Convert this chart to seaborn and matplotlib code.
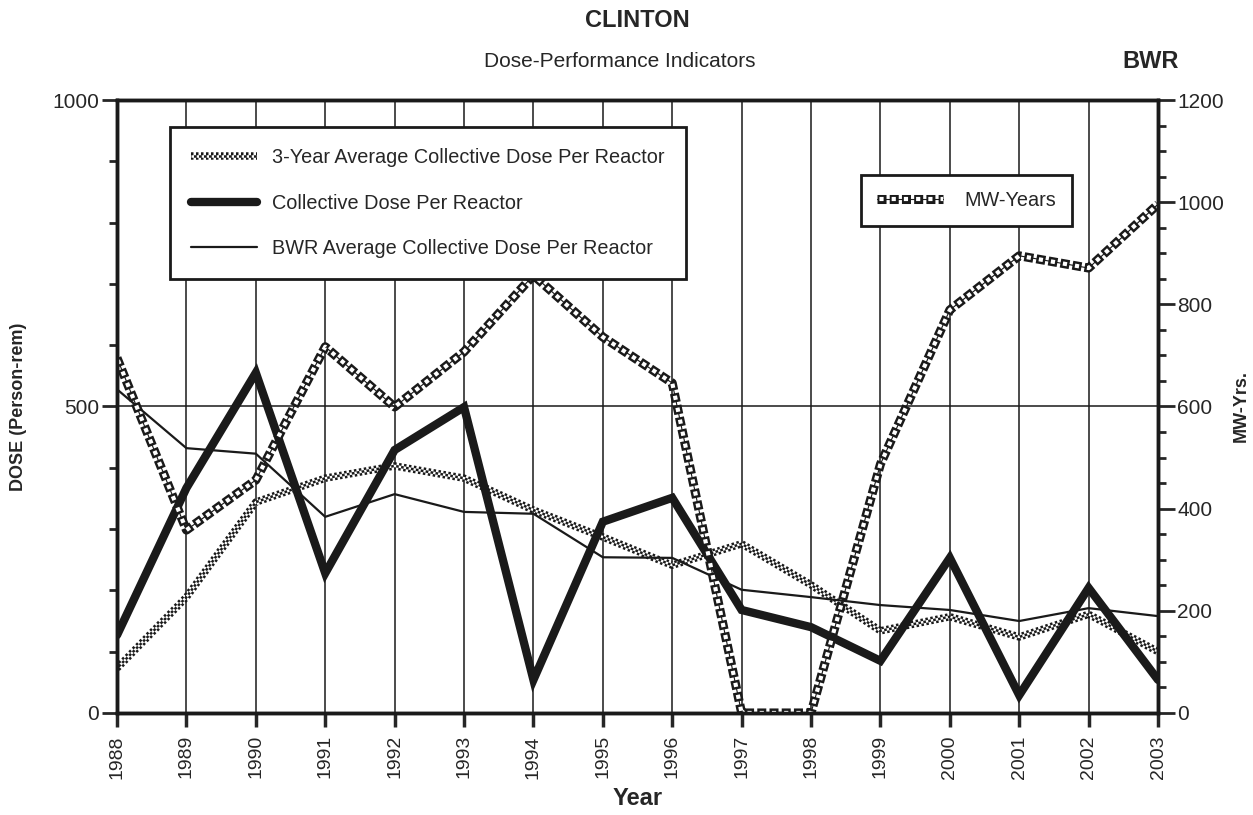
import matplotlib
matplotlib.use("Agg")
import matplotlib.pyplot as plt
from matplotlib.lines import Line2D
from matplotlib.ticker import MultipleLocator
import pandas as pd
import seaborn as sns

# Data
years = list(range(1988, 2004))
collective_dose = [127, 367, 555, 228, 429, 499, 54, 312, 351, 168, 140, 85, 253, 29, 204, 54]
bwr_avg_dose = [528, 432, 423, 320, 357, 328, 325, 254, 253, 201, 189, 176, 168, 150, 171, 158]
three_yr_avg = [73, 189, 344, 383, 403, 383, 331, 287, 241, 276, 209, 134, 157, 124, 161, 100]
mw_years = [695, 358, 456, 717, 599, 707, 857, 736, 646, 0, 0, 487, 789, 895, 871, 996]

df = pd.DataFrame({"year": years, "dose": collective_dose, "bwr": bwr_avg_dose,
                   "avg3": three_yr_avg, "mw": mw_years})

sns.set_style("ticks")
plt.rcParams['font.family'] = ['Liberation Sans', 'DejaVu Sans']
plt.rcParams['lines.scale_dashes'] = False

INK = "#1a1a1a"
# checkered line (3-yr avg) and hollow-square line (MW-years), as layered dash styles
checker_styles = [dict(color=INK, linewidth=5.4, linestyle=(0, (1.8, 1.8))),
                  dict(color="white", linewidth=1.8, linestyle=(0, (1.8, 1.8))),
                  dict(color=INK, linewidth=1.8, linestyle=(1.8, (1.8, 1.8)))]
square_styles = [dict(color=INK, linewidth=0.8),
                 dict(color=INK, linewidth=6.5, linestyle=(0, (6.5, 2.3))),
                 dict(color="white", linewidth=3.0, linestyle=(7.05, (3.0, 5.8)))]

fig = plt.figure(figsize=(12.53, 8.15), dpi=100)
ax = fig.add_axes([0.0934, 0.1252, 0.8308, 0.7521])
ax2 = ax.twinx()

# left axis lines
for st in checker_styles:
    sns.lineplot(data=df, x="year", y="avg3", ax=ax, errorbar=None, **st)
sns.lineplot(data=df, x="year", y="bwr", ax=ax, color=INK, linewidth=1.6, errorbar=None)
sns.lineplot(data=df, x="year", y="dose", ax=ax, color=INK, linewidth=6,
             errorbar=None, solid_joinstyle="miter")

# right axis: MW-years
for st in square_styles:
    sns.lineplot(data=df, x="year", y="mw", ax=ax2, errorbar=None, **st)

ax.set_xlim(1988, 2003)
ax.set_ylim(0, 1000)
ax2.set_ylim(0, 1200)

ax.set_xticks(years)
ax.set_xticklabels([str(y) for y in years], rotation=90, fontsize=14)
ax.xaxis.grid(True, color=INK, linewidth=1.1)
ax.axhline(500, color=INK, linewidth=1.1, zorder=0.5)

ax.set_yticks([0, 500, 1000])
ax.yaxis.set_minor_locator(MultipleLocator(100))
ax.tick_params(axis="y", which="major", length=11, width=2, labelsize=15, pad=2)
ax.tick_params(axis="y", which="minor", length=6, width=2)
ax.tick_params(axis="x", which="major", length=10, width=2.5, pad=6)

ax2.set_yticks(range(0, 1201, 200))
ax2.yaxis.set_minor_locator(MultipleLocator(50))
ax2.tick_params(axis="y", which="major", length=12, width=2, labelsize=15, pad=2)
ax2.tick_params(axis="y", which="minor", length=6, width=2)

for a in (ax, ax2):
    for side in ("left", "right", "bottom", "top"):
        a.spines[side].set_visible(True)
        a.spines[side].set_linewidth(2.5)
        a.spines[side].set_color(INK)

ax.set_xlabel("Year", fontsize=17, fontweight="bold", labelpad=6)
ax.set_ylabel("DOSE (Person-rem)", fontsize=13, fontweight="bold", labelpad=18)
ax2.set_ylabel("MW-Yrs.", fontsize=13, fontweight="bold", labelpad=6, rotation=90)

fig.text(0.509, 0.975, "CLINTON", ha="center", va="center", fontsize=17, fontweight="bold")
fig.text(0.495, 0.924, "Dose-Performance Indicators", ha="center", va="center", fontsize=15)
fig.text(0.918, 0.924, "BWR", ha="center", va="center", fontsize=17, fontweight="bold")

# legends
lfont = {"size": 14.3}
h_avg = tuple(Line2D([], [], **st) for st in checker_styles)
h_dose = Line2D([], [], color=INK, linewidth=6)
h_bwr = Line2D([], [], color=INK, linewidth=1.6)
leg1 = ax2.legend([h_avg, h_dose, h_bwr],
                  ["3-Year Average Collective Dose Per Reactor", "Collective Dose Per Reactor",
                   "BWR Average Collective Dose Per Reactor"],
                  loc="upper left", bbox_to_anchor=(0.051, 0.956), borderaxespad=0,
                  prop=lfont, frameon=True, fancybox=False, framealpha=1, edgecolor=INK,
                  labelspacing=1.35, handlelength=3.3, handletextpad=0.8, borderpad=1.05)
leg1.get_frame().set_linewidth(2)
ax2.add_artist(leg1)

h_mw = tuple(Line2D([], [], **st) for st in square_styles)
leg2 = ax2.legend([h_mw], ["MW-Years"], loc="upper left", bbox_to_anchor=(0.715, 0.878),
                  borderaxespad=0, prop=lfont, frameon=True, fancybox=False, framealpha=1,
                  edgecolor=INK, handlelength=3.3, handletextpad=1.1, borderpad=0.8)
leg2.get_frame().set_linewidth(2)

fig.savefig("out.png", dpi=100)
